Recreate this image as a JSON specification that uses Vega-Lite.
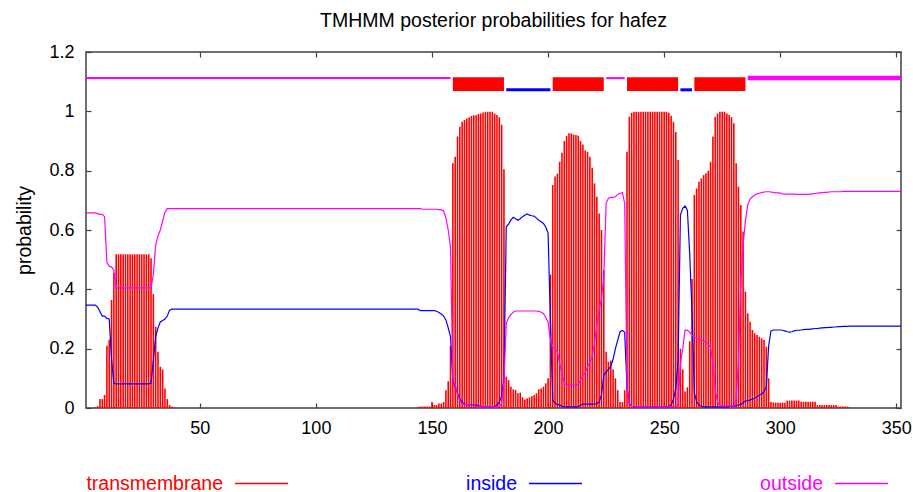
{
"$schema": "https://vega.github.io/schema/vega-lite/v6.json",
"width": 815,
"height": 356,
"autosize": {"type": "none"},
"padding": {"left": 86, "top": 52, "right": 12, "bottom": 84},
"background": "white",
"title": {"text": "TMHMM posterior probabilities for hafez", "fontSize": 19.5, "fontWeight": "normal", "font": "Liberation Sans", "color": "#000000", "anchor": "middle", "offset": 12},
"config": {
  "view": {"stroke": "#404040", "strokeWidth": 1.5},
  "font": "Liberation Sans",
  "axis": {"labelFont": "Liberation Sans", "labelFontSize": 18, "labelColor": "#000000", "tickColor": "#404040", "tickWidth": 1.2, "grid": false, "domain": false, "titleFont": "Liberation Sans", "titleFontWeight": "normal", "titleFontSize": 19.5, "titleColor": "#000000"}
},
"datasets": {
"res": [
{"p":1,"tm":0,"in":0.347,"out":0.658},
{"p":2,"tm":0,"in":0.347,"out":0.658},
{"p":3,"tm":0,"in":0.347,"out":0.658},
{"p":4,"tm":0,"in":0.347,"out":0.658},
{"p":5,"tm":0.003,"in":0.347,"out":0.658},
{"p":6,"tm":0.006,"in":0.34,"out":0.655},
{"p":7,"tm":0.03,"in":0.325,"out":0.653},
{"p":8,"tm":0.03,"in":0.31,"out":0.653},
{"p":9,"tm":0.044,"in":0.31,"out":0.645},
{"p":10,"tm":0.21,"in":0.302,"out":0.49},
{"p":11,"tm":0.23,"in":0.3,"out":0.478},
{"p":12,"tm":0.364,"in":0.165,"out":0.475},
{"p":13,"tm":0.456,"in":0.083,"out":0.465},
{"p":14,"tm":0.518,"in":0.081,"out":0.405},
{"p":15,"tm":0.518,"in":0.081,"out":0.405},
{"p":16,"tm":0.518,"in":0.081,"out":0.405},
{"p":17,"tm":0.518,"in":0.081,"out":0.405},
{"p":18,"tm":0.518,"in":0.081,"out":0.405},
{"p":19,"tm":0.518,"in":0.081,"out":0.405},
{"p":20,"tm":0.518,"in":0.081,"out":0.405},
{"p":21,"tm":0.518,"in":0.081,"out":0.405},
{"p":22,"tm":0.518,"in":0.081,"out":0.405},
{"p":23,"tm":0.518,"in":0.081,"out":0.405},
{"p":24,"tm":0.518,"in":0.081,"out":0.405},
{"p":25,"tm":0.518,"in":0.081,"out":0.405},
{"p":26,"tm":0.518,"in":0.081,"out":0.405},
{"p":27,"tm":0.518,"in":0.081,"out":0.405},
{"p":28,"tm":0.518,"in":0.081,"out":0.405},
{"p":29,"tm":0.505,"in":0.083,"out":0.405},
{"p":30,"tm":0.384,"in":0.16,"out":0.45},
{"p":31,"tm":0.274,"in":0.24,"out":0.55},
{"p":32,"tm":0.19,"in":0.27,"out":0.58},
{"p":33,"tm":0.139,"in":0.29,"out":0.6},
{"p":34,"tm":0.13,"in":0.295,"out":0.63},
{"p":35,"tm":0.066,"in":0.3,"out":0.66},
{"p":36,"tm":0.03,"in":0.31,"out":0.672},
{"p":37,"tm":0.01,"in":0.33,"out":0.672},
{"p":38,"tm":0.005,"in":0.333,"out":0.672},
{"p":39,"tm":0.002,"in":0.333,"out":0.672},
{"p":40,"tm":0,"in":0.333,"out":0.672},
{"p":41,"tm":0,"in":0.333,"out":0.672},
{"p":42,"tm":0,"in":0.333,"out":0.672},
{"p":43,"tm":0,"in":0.333,"out":0.672},
{"p":44,"tm":0,"in":0.333,"out":0.672},
{"p":45,"tm":0,"in":0.333,"out":0.672},
{"p":46,"tm":0,"in":0.333,"out":0.672},
{"p":47,"tm":0,"in":0.333,"out":0.672},
{"p":48,"tm":0,"in":0.333,"out":0.672},
{"p":49,"tm":0,"in":0.333,"out":0.672},
{"p":50,"tm":0,"in":0.333,"out":0.672},
{"p":51,"tm":0,"in":0.333,"out":0.672},
{"p":52,"tm":0,"in":0.333,"out":0.672},
{"p":53,"tm":0,"in":0.333,"out":0.672},
{"p":54,"tm":0,"in":0.333,"out":0.672},
{"p":55,"tm":0,"in":0.333,"out":0.672},
{"p":56,"tm":0,"in":0.333,"out":0.672},
{"p":57,"tm":0,"in":0.333,"out":0.672},
{"p":58,"tm":0,"in":0.333,"out":0.672},
{"p":59,"tm":0,"in":0.333,"out":0.672},
{"p":60,"tm":0,"in":0.333,"out":0.672},
{"p":61,"tm":0,"in":0.333,"out":0.672},
{"p":62,"tm":0,"in":0.333,"out":0.672},
{"p":63,"tm":0,"in":0.333,"out":0.672},
{"p":64,"tm":0,"in":0.333,"out":0.672},
{"p":65,"tm":0,"in":0.333,"out":0.672},
{"p":66,"tm":0,"in":0.333,"out":0.672},
{"p":67,"tm":0,"in":0.333,"out":0.672},
{"p":68,"tm":0,"in":0.333,"out":0.672},
{"p":69,"tm":0,"in":0.333,"out":0.672},
{"p":70,"tm":0,"in":0.333,"out":0.672},
{"p":71,"tm":0,"in":0.333,"out":0.672},
{"p":72,"tm":0,"in":0.333,"out":0.672},
{"p":73,"tm":0,"in":0.333,"out":0.672},
{"p":74,"tm":0,"in":0.333,"out":0.672},
{"p":75,"tm":0,"in":0.333,"out":0.672},
{"p":76,"tm":0,"in":0.333,"out":0.672},
{"p":77,"tm":0,"in":0.333,"out":0.672},
{"p":78,"tm":0,"in":0.333,"out":0.672},
{"p":79,"tm":0,"in":0.333,"out":0.672},
{"p":80,"tm":0,"in":0.333,"out":0.672},
{"p":81,"tm":0,"in":0.333,"out":0.672},
{"p":82,"tm":0,"in":0.333,"out":0.672},
{"p":83,"tm":0,"in":0.333,"out":0.672},
{"p":84,"tm":0,"in":0.333,"out":0.672},
{"p":85,"tm":0,"in":0.333,"out":0.672},
{"p":86,"tm":0,"in":0.333,"out":0.672},
{"p":87,"tm":0,"in":0.333,"out":0.672},
{"p":88,"tm":0,"in":0.333,"out":0.672},
{"p":89,"tm":0,"in":0.333,"out":0.672},
{"p":90,"tm":0,"in":0.333,"out":0.672},
{"p":91,"tm":0,"in":0.333,"out":0.672},
{"p":92,"tm":0,"in":0.333,"out":0.672},
{"p":93,"tm":0,"in":0.333,"out":0.672},
{"p":94,"tm":0,"in":0.333,"out":0.672},
{"p":95,"tm":0,"in":0.333,"out":0.672},
{"p":96,"tm":0,"in":0.333,"out":0.672},
{"p":97,"tm":0,"in":0.333,"out":0.672},
{"p":98,"tm":0,"in":0.333,"out":0.672},
{"p":99,"tm":0,"in":0.333,"out":0.672},
{"p":100,"tm":0,"in":0.333,"out":0.672},
{"p":101,"tm":0,"in":0.333,"out":0.672},
{"p":102,"tm":0,"in":0.333,"out":0.672},
{"p":103,"tm":0,"in":0.333,"out":0.672},
{"p":104,"tm":0,"in":0.333,"out":0.672},
{"p":105,"tm":0,"in":0.333,"out":0.672},
{"p":106,"tm":0,"in":0.333,"out":0.672},
{"p":107,"tm":0,"in":0.333,"out":0.672},
{"p":108,"tm":0,"in":0.333,"out":0.672},
{"p":109,"tm":0,"in":0.333,"out":0.672},
{"p":110,"tm":0,"in":0.333,"out":0.672},
{"p":111,"tm":0,"in":0.333,"out":0.672},
{"p":112,"tm":0,"in":0.333,"out":0.672},
{"p":113,"tm":0,"in":0.333,"out":0.672},
{"p":114,"tm":0,"in":0.333,"out":0.672},
{"p":115,"tm":0,"in":0.333,"out":0.672},
{"p":116,"tm":0,"in":0.333,"out":0.672},
{"p":117,"tm":0,"in":0.333,"out":0.672},
{"p":118,"tm":0,"in":0.333,"out":0.672},
{"p":119,"tm":0,"in":0.333,"out":0.672},
{"p":120,"tm":0,"in":0.333,"out":0.672},
{"p":121,"tm":0,"in":0.333,"out":0.672},
{"p":122,"tm":0,"in":0.333,"out":0.672},
{"p":123,"tm":0,"in":0.333,"out":0.672},
{"p":124,"tm":0,"in":0.333,"out":0.672},
{"p":125,"tm":0,"in":0.333,"out":0.672},
{"p":126,"tm":0,"in":0.333,"out":0.672},
{"p":127,"tm":0,"in":0.333,"out":0.672},
{"p":128,"tm":0,"in":0.333,"out":0.672},
{"p":129,"tm":0,"in":0.333,"out":0.672},
{"p":130,"tm":0,"in":0.333,"out":0.672},
{"p":131,"tm":0,"in":0.333,"out":0.672},
{"p":132,"tm":0,"in":0.333,"out":0.672},
{"p":133,"tm":0,"in":0.333,"out":0.672},
{"p":134,"tm":0,"in":0.333,"out":0.672},
{"p":135,"tm":0,"in":0.333,"out":0.672},
{"p":136,"tm":0,"in":0.333,"out":0.672},
{"p":137,"tm":0,"in":0.333,"out":0.672},
{"p":138,"tm":0,"in":0.333,"out":0.672},
{"p":139,"tm":0,"in":0.333,"out":0.672},
{"p":140,"tm":0,"in":0.333,"out":0.672},
{"p":141,"tm":0,"in":0.333,"out":0.672},
{"p":142,"tm":0,"in":0.333,"out":0.672},
{"p":143,"tm":0,"in":0.333,"out":0.672},
{"p":144,"tm":0.004,"in":0.333,"out":0.672},
{"p":145,"tm":0.005,"in":0.328,"out":0.672},
{"p":146,"tm":0.005,"in":0.328,"out":0.67},
{"p":147,"tm":0.005,"in":0.328,"out":0.67},
{"p":148,"tm":0.005,"in":0.328,"out":0.67},
{"p":149,"tm":0.005,"in":0.328,"out":0.67},
{"p":150,"tm":0.02,"in":0.328,"out":0.67},
{"p":151,"tm":0.01,"in":0.328,"out":0.67},
{"p":152,"tm":0.01,"in":0.326,"out":0.67},
{"p":153,"tm":0.015,"in":0.322,"out":0.669},
{"p":154,"tm":0.015,"in":0.317,"out":0.668},
{"p":155,"tm":0.02,"in":0.31,"out":0.665},
{"p":156,"tm":0.06,"in":0.297,"out":0.64},
{"p":157,"tm":0.09,"in":0.27,"out":0.6},
{"p":158,"tm":0.21,"in":0.24,"out":0.54},
{"p":159,"tm":0.825,"in":0.089,"out":0.09},
{"p":160,"tm":0.847,"in":0.072,"out":0.08},
{"p":161,"tm":0.915,"in":0.05,"out":0.045},
{"p":162,"tm":0.948,"in":0.03,"out":0.025},
{"p":163,"tm":0.965,"in":0.02,"out":0.015},
{"p":164,"tm":0.971,"in":0.013,"out":0.013},
{"p":165,"tm":0.976,"in":0.011,"out":0.012},
{"p":166,"tm":0.98,"in":0.01,"out":0.01},
{"p":167,"tm":0.984,"in":0.01,"out":0.008},
{"p":168,"tm":0.987,"in":0.01,"out":0.007},
{"p":169,"tm":0.987,"in":0.01,"out":0.006},
{"p":170,"tm":0.991,"in":0.008,"out":0.005},
{"p":171,"tm":0.993,"in":0.006,"out":0.004},
{"p":172,"tm":0.996,"in":0.004,"out":0.004},
{"p":173,"tm":0.999,"in":0.004,"out":0.004},
{"p":174,"tm":0.999,"in":0.004,"out":0.004},
{"p":175,"tm":0.999,"in":0.004,"out":0.004},
{"p":176,"tm":0.999,"in":0.004,"out":0.004},
{"p":177,"tm":0.993,"in":0.006,"out":0.004},
{"p":178,"tm":0.988,"in":0.01,"out":0.004},
{"p":179,"tm":0.98,"in":0.02,"out":0.006},
{"p":180,"tm":0.955,"in":0.04,"out":0.015},
{"p":181,"tm":0.805,"in":0.1,"out":0.09},
{"p":182,"tm":0.106,"in":0.611,"out":0.285},
{"p":183,"tm":0.094,"in":0.62,"out":0.305},
{"p":184,"tm":0.072,"in":0.634,"out":0.315},
{"p":185,"tm":0.063,"in":0.643,"out":0.323},
{"p":186,"tm":0.061,"in":0.638,"out":0.327},
{"p":187,"tm":0.05,"in":0.633,"out":0.327},
{"p":188,"tm":0.052,"in":0.638,"out":0.327},
{"p":189,"tm":0.036,"in":0.645,"out":0.327},
{"p":190,"tm":0.029,"in":0.65,"out":0.327},
{"p":191,"tm":0.033,"in":0.654,"out":0.327},
{"p":192,"tm":0.036,"in":0.65,"out":0.327},
{"p":193,"tm":0.04,"in":0.648,"out":0.327},
{"p":194,"tm":0.044,"in":0.647,"out":0.327},
{"p":195,"tm":0.05,"in":0.64,"out":0.327},
{"p":196,"tm":0.063,"in":0.633,"out":0.326},
{"p":197,"tm":0.066,"in":0.628,"out":0.323},
{"p":198,"tm":0.072,"in":0.622,"out":0.319},
{"p":199,"tm":0.083,"in":0.61,"out":0.305},
{"p":200,"tm":0.1,"in":0.59,"out":0.29},
{"p":201,"tm":0.45,"in":0.3,"out":0.23},
{"p":202,"tm":0.752,"in":0.027,"out":0.207},
{"p":203,"tm":0.78,"in":0.016,"out":0.2},
{"p":204,"tm":0.79,"in":0.012,"out":0.19},
{"p":205,"tm":0.83,"in":0.01,"out":0.15},
{"p":206,"tm":0.86,"in":0.006,"out":0.117},
{"p":207,"tm":0.9,"in":0.004,"out":0.083},
{"p":208,"tm":0.918,"in":0.004,"out":0.078},
{"p":209,"tm":0.926,"in":0.004,"out":0.078},
{"p":210,"tm":0.925,"in":0.004,"out":0.078},
{"p":211,"tm":0.922,"in":0.004,"out":0.078},
{"p":212,"tm":0.92,"in":0.004,"out":0.078},
{"p":213,"tm":0.918,"in":0.004,"out":0.08},
{"p":214,"tm":0.9,"in":0.01,"out":0.094},
{"p":215,"tm":0.888,"in":0.013,"out":0.111},
{"p":216,"tm":0.868,"in":0.013,"out":0.12},
{"p":217,"tm":0.864,"in":0.013,"out":0.139},
{"p":218,"tm":0.847,"in":0.013,"out":0.155},
{"p":219,"tm":0.81,"in":0.013,"out":0.173},
{"p":220,"tm":0.757,"in":0.013,"out":0.22},
{"p":221,"tm":0.712,"in":0.015,"out":0.28},
{"p":222,"tm":0.656,"in":0.02,"out":0.33},
{"p":223,"tm":0.6,"in":0.044,"out":0.37},
{"p":224,"tm":0.465,"in":0.11,"out":0.44},
{"p":225,"tm":0.19,"in":0.122,"out":0.69},
{"p":226,"tm":0.156,"in":0.13,"out":0.707},
{"p":227,"tm":0.16,"in":0.14,"out":0.71},
{"p":228,"tm":0.13,"in":0.165,"out":0.71},
{"p":229,"tm":0.1,"in":0.2,"out":0.712},
{"p":230,"tm":0.06,"in":0.229,"out":0.72},
{"p":231,"tm":0.02,"in":0.257,"out":0.724},
{"p":232,"tm":0.02,"in":0.261,"out":0.726},
{"p":233,"tm":0.06,"in":0.255,"out":0.69},
{"p":234,"tm":0.864,"in":0.07,"out":0.07},
{"p":235,"tm":0.982,"in":0.015,"out":0.016},
{"p":236,"tm":0.995,"in":0.006,"out":0.006},
{"p":237,"tm":0.999,"in":0.004,"out":0.004},
{"p":238,"tm":0.999,"in":0.004,"out":0.004},
{"p":239,"tm":0.999,"in":0.004,"out":0.004},
{"p":240,"tm":0.999,"in":0.004,"out":0.004},
{"p":241,"tm":0.999,"in":0.004,"out":0.004},
{"p":242,"tm":0.999,"in":0.004,"out":0.004},
{"p":243,"tm":0.999,"in":0.004,"out":0.004},
{"p":244,"tm":0.999,"in":0.004,"out":0.004},
{"p":245,"tm":0.999,"in":0.004,"out":0.004},
{"p":246,"tm":0.999,"in":0.004,"out":0.004},
{"p":247,"tm":0.999,"in":0.004,"out":0.004},
{"p":248,"tm":0.999,"in":0.004,"out":0.004},
{"p":249,"tm":0.999,"in":0.004,"out":0.004},
{"p":250,"tm":0.999,"in":0.004,"out":0.004},
{"p":251,"tm":0.999,"in":0.004,"out":0.004},
{"p":252,"tm":0.995,"in":0.004,"out":0.004},
{"p":253,"tm":0.985,"in":0.01,"out":0.005},
{"p":254,"tm":0.965,"in":0.03,"out":0.005},
{"p":255,"tm":0.93,"in":0.065,"out":0.005},
{"p":256,"tm":0.836,"in":0.16,"out":0.008},
{"p":257,"tm":0.2,"in":0.65,"out":0.15},
{"p":258,"tm":0.13,"in":0.673,"out":0.2},
{"p":259,"tm":0.056,"in":0.681,"out":0.263},
{"p":260,"tm":0.07,"in":0.667,"out":0.262},
{"p":261,"tm":0.225,"in":0.52,"out":0.255},
{"p":262,"tm":0.435,"in":0.32,"out":0.245},
{"p":263,"tm":0.718,"in":0.05,"out":0.24},
{"p":264,"tm":0.74,"in":0.021,"out":0.235},
{"p":265,"tm":0.763,"in":0.01,"out":0.232},
{"p":266,"tm":0.774,"in":0.006,"out":0.229},
{"p":267,"tm":0.785,"in":0.004,"out":0.226},
{"p":268,"tm":0.791,"in":0.004,"out":0.222},
{"p":269,"tm":0.8,"in":0.004,"out":0.215},
{"p":270,"tm":0.83,"in":0.004,"out":0.205},
{"p":271,"tm":0.915,"in":0.004,"out":0.15},
{"p":272,"tm":0.982,"in":0.004,"out":0.06},
{"p":273,"tm":0.993,"in":0.004,"out":0.02},
{"p":274,"tm":0.999,"in":0.004,"out":0.007},
{"p":275,"tm":0.999,"in":0.004,"out":0.007},
{"p":276,"tm":0.999,"in":0.004,"out":0.007},
{"p":277,"tm":0.993,"in":0.004,"out":0.007},
{"p":278,"tm":0.988,"in":0.005,"out":0.007},
{"p":279,"tm":0.98,"in":0.006,"out":0.007},
{"p":280,"tm":0.96,"in":0.007,"out":0.007},
{"p":281,"tm":0.825,"in":0.008,"out":0.03},
{"p":282,"tm":0.746,"in":0.01,"out":0.16},
{"p":283,"tm":0.684,"in":0.012,"out":0.42},
{"p":284,"tm":0.594,"in":0.018,"out":0.55},
{"p":285,"tm":0.392,"in":0.024,"out":0.63},
{"p":286,"tm":0.319,"in":0.025,"out":0.685},
{"p":287,"tm":0.291,"in":0.027,"out":0.705},
{"p":288,"tm":0.263,"in":0.03,"out":0.712},
{"p":289,"tm":0.252,"in":0.033,"out":0.718},
{"p":290,"tm":0.246,"in":0.038,"out":0.722},
{"p":291,"tm":0.24,"in":0.044,"out":0.724},
{"p":292,"tm":0.235,"in":0.047,"out":0.726},
{"p":293,"tm":0.229,"in":0.055,"out":0.728},
{"p":294,"tm":0.207,"in":0.072,"out":0.729},
{"p":295,"tm":0.1,"in":0.21,"out":0.729},
{"p":296,"tm":0.02,"in":0.26,"out":0.728},
{"p":297,"tm":0.018,"in":0.263,"out":0.727},
{"p":298,"tm":0.018,"in":0.263,"out":0.725},
{"p":299,"tm":0.018,"in":0.263,"out":0.725},
{"p":300,"tm":0.018,"in":0.263,"out":0.724},
{"p":301,"tm":0.018,"in":0.262,"out":0.722},
{"p":302,"tm":0.018,"in":0.26,"out":0.721},
{"p":303,"tm":0.025,"in":0.257,"out":0.721},
{"p":304,"tm":0.025,"in":0.256,"out":0.721},
{"p":305,"tm":0.025,"in":0.257,"out":0.721},
{"p":306,"tm":0.025,"in":0.26,"out":0.721},
{"p":307,"tm":0.025,"in":0.262,"out":0.72},
{"p":308,"tm":0.025,"in":0.262,"out":0.72},
{"p":309,"tm":0.021,"in":0.263,"out":0.72},
{"p":310,"tm":0.021,"in":0.264,"out":0.72},
{"p":311,"tm":0.021,"in":0.265,"out":0.72},
{"p":312,"tm":0.021,"in":0.265,"out":0.72},
{"p":313,"tm":0.021,"in":0.266,"out":0.721},
{"p":314,"tm":0.021,"in":0.267,"out":0.722},
{"p":315,"tm":0.021,"in":0.268,"out":0.723},
{"p":316,"tm":0.01,"in":0.268,"out":0.724},
{"p":317,"tm":0.01,"in":0.269,"out":0.725},
{"p":318,"tm":0.01,"in":0.27,"out":0.726},
{"p":319,"tm":0.01,"in":0.271,"out":0.727},
{"p":320,"tm":0.01,"in":0.271,"out":0.727},
{"p":321,"tm":0.01,"in":0.272,"out":0.728},
{"p":322,"tm":0.01,"in":0.272,"out":0.729},
{"p":323,"tm":0.01,"in":0.273,"out":0.729},
{"p":324,"tm":0.01,"in":0.273,"out":0.729},
{"p":325,"tm":0.005,"in":0.274,"out":0.729},
{"p":326,"tm":0.005,"in":0.274,"out":0.729},
{"p":327,"tm":0.005,"in":0.275,"out":0.73},
{"p":328,"tm":0.005,"in":0.275,"out":0.73},
{"p":329,"tm":0.005,"in":0.275,"out":0.73},
{"p":330,"tm":0.002,"in":0.276,"out":0.73},
{"p":331,"tm":0,"in":0.276,"out":0.73},
{"p":332,"tm":0,"in":0.276,"out":0.73},
{"p":333,"tm":0,"in":0.276,"out":0.73},
{"p":334,"tm":0,"in":0.276,"out":0.73},
{"p":335,"tm":0,"in":0.276,"out":0.73},
{"p":336,"tm":0,"in":0.276,"out":0.73},
{"p":337,"tm":0,"in":0.276,"out":0.73},
{"p":338,"tm":0,"in":0.276,"out":0.73},
{"p":339,"tm":0,"in":0.276,"out":0.73},
{"p":340,"tm":0,"in":0.276,"out":0.73},
{"p":341,"tm":0,"in":0.276,"out":0.73},
{"p":342,"tm":0,"in":0.276,"out":0.73},
{"p":343,"tm":0,"in":0.276,"out":0.73},
{"p":344,"tm":0,"in":0.276,"out":0.73},
{"p":345,"tm":0,"in":0.276,"out":0.73},
{"p":346,"tm":0,"in":0.276,"out":0.73},
{"p":347,"tm":0,"in":0.276,"out":0.73},
{"p":348,"tm":0,"in":0.276,"out":0.73},
{"p":349,"tm":0,"in":0.276,"out":0.73},
{"p":350,"tm":0,"in":0.276,"out":0.73},
{"p":351,"tm":0,"in":0.276,"out":0.73},
{"p":352,"tm":0,"in":0.276,"out":0.73}
],
"topo": [
{"start":1,"end":158,"type":"outside"},
{"start":159,"end":181,"type":"TMhelix"},
{"start":182,"end":201,"type":"inside"},
{"start":202,"end":224,"type":"TMhelix"},
{"start":225,"end":233,"type":"outside"},
{"start":234,"end":256,"type":"TMhelix"},
{"start":257,"end":262,"type":"inside"},
{"start":263,"end":285,"type":"TMhelix"},
{"start":286,"end":352,"type":"outside"}
]
},
"layer": [
{
  "data": {"name": "res"},
  "mark": {"type": "rule", "strokeWidth": 1.6},
  "encoding": {
    "x": {"field": "p", "type": "quantitative", "scale": {"domain": [1, 352], "nice": false, "zero": false},
          "axis": {"orient": "bottom", "values": [50, 100, 150, 200, 250, 300, 350], "format": "d", "tickSize": -5, "labelPadding": 16, "title": null}},
    "y": {"field": "tm", "type": "quantitative", "scale": {"domain": [0, 1.2], "nice": false},
          "axis": {"orient": "left", "values": [0, 0.2, 0.4, 0.6, 0.8, 1, 1.2], "format": "~g", "tickSize": -5, "labelPadding": 17, "title": "probability", "titlePadding": 14}},
    "y2": {"datum": 0},
    "color": {"datum": "transmembrane", "type": "nominal",
              "scale": {"domain": ["transmembrane", "inside", "outside"], "range": ["#ff0000", "#0000ff", "#ff00ff"]},
              "legend": {"orient": "none", "legendX": 148, "legendY": 404, "direction": "horizontal", "title": null,
                         "symbolType": "stroke", "symbolSize": 2809, "symbolStrokeWidth": 1.5,
                         "labelFontSize": 19.5, "labelFont": "Liberation Sans", "labelAlign": "right", "labelOffset": -66,
                         "columnPadding": 175, "padding": 0, "labelLimit": 400,
                         "encode": {"labels": {"update": {"fill": {"scale": "color", "field": "value"}}}}}}
  }
},
{
  "data": {"name": "res"},
  "mark": {"type": "line", "strokeWidth": 1.2},
  "encoding": {
    "x": {"field": "p", "type": "quantitative", "axis": {"orient": "top", "values": [50, 100, 150, 200, 250, 300, 350], "labels": false, "tickSize": -5, "title": null}},
    "y": {"field": "in", "type": "quantitative", "axis": {"orient": "right", "values": [0, 0.2, 0.4, 0.6, 0.8, 1, 1.2], "labels": false, "tickSize": -5, "title": null}},
    "color": {"datum": "inside", "type": "nominal"}
  }
},
{
  "data": {"name": "res"},
  "mark": {"type": "line", "strokeWidth": 1.2},
  "encoding": {
    "x": {"field": "p", "type": "quantitative", "axis": null},
    "y": {"field": "out", "type": "quantitative", "axis": null},
    "color": {"datum": "outside", "type": "nominal"}
  }
},
{
  "data": {"name": "topo"},
  "transform": [{"filter": "datum.type === 'TMhelix'"}],
  "mark": {"type": "rect", "color": "#ff0000"},
  "encoding": {
    "x": {"field": "start", "type": "quantitative", "axis": null},
    "x2": {"field": "end"},
    "y": {"datum": 1.0685, "type": "quantitative", "axis": null},
    "y2": {"datum": 1.1147}
  }
},
{
  "data": {"name": "topo"},
  "transform": [{"filter": "datum.type === 'outside'"}],
  "mark": {"type": "rule", "color": "#ff00ff"},
  "encoding": {
    "x": {"field": "start", "type": "quantitative", "axis": null},
    "x2": {"field": "end"},
    "y": {"datum": 1.112, "type": "quantitative", "axis": null},
    "strokeWidth": {"condition": {"test": "datum.end >= 352", "value": 4.5}, "value": 2}
  }
},
{
  "data": {"name": "topo"},
  "transform": [{"filter": "datum.type === 'inside'"}],
  "mark": {"type": "rule", "color": "#0000ff", "strokeWidth": 3},
  "encoding": {
    "x": {"field": "start", "type": "quantitative", "axis": null},
    "x2": {"field": "end"},
    "y": {"datum": 1.0725, "type": "quantitative", "axis": null}
  }
}
],
"resolve": {"axis": {"x": "independent", "y": "independent"}}
}
